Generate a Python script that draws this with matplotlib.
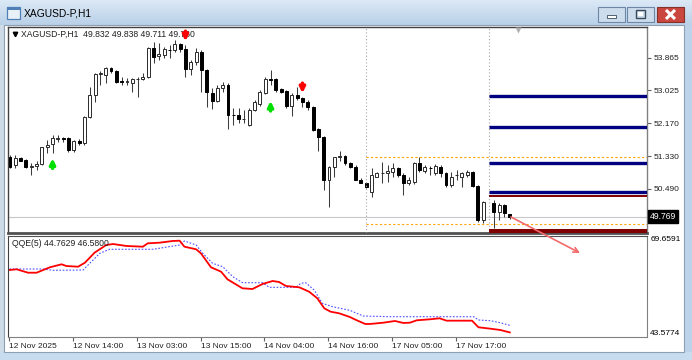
#!/usr/bin/env python3
"""
XAGUSD-P H1 chart with QQE(5) sub-window, redrawn in matplotlib
"""
import numpy as np
import matplotlib
matplotlib.use('Agg')
import matplotlib.pyplot as plt
from matplotlib.patches import Rectangle
from matplotlib.colors import LinearSegmentedColormap
import matplotlib.transforms as mtransforms

plt.rcParams['font.family'] = ['Liberation Sans', 'DejaVu Sans']

# ---- data ----
symbol = 'XAGUSD-P,H1'
header_ohlc = '49.832 49.838 49.711 49.760'
bid_price = 49.769

opens = [51.31, 51.10, 51.27, 51.23, 51.06, 51.07, 51.12, 51.55, 51.64, 51.78,
         51.79, 51.79, 51.49, 51.72, 51.66, 52.33, 52.90, 53.44, 53.42, 53.59,
         53.51, 53.25, 53.24, 53.20, 53.31, 53.31, 53.36, 54.11, 53.91, 53.93,
         54.07, 54.06, 54.22, 54.08, 53.57, 53.75, 54.02, 53.55, 52.96, 52.75,
         53.08, 53.16, 52.39, 52.39, 52.28, 52.13, 52.52, 52.67, 52.96, 53.31,
         53.31, 53.05, 53.01, 52.62, 52.90, 52.82, 52.73, 52.59, 52.02, 51.81,
         50.70, 51.06, 51.31, 51.33, 51.14, 51.06, 50.71, 50.64, 50.41, 50.80,
         50.88, 50.88, 50.93, 51.01, 50.84, 50.63, 50.67, 51.16, 50.95, 51.02,
         50.88, 51.06, 50.88, 50.58, 50.84, 50.80, 50.84, 50.93, 50.56, 49.68,
         np.nan, 50.11, 49.90, 50.07, 49.832]
highs = [51.36, 51.36, 51.31, 51.25, 51.14, 51.19, 51.57, 51.74, 51.87, 51.87,
         51.83, 51.81, 51.74, 51.78, 52.36, 53.10, 53.48, 53.51, 53.63, 53.63,
         53.55, 53.38, 53.33, 53.33, 53.38, 53.46, 54.15, 54.28, 54.24, 54.15,
         54.19, 54.32, 54.24, 54.19, 53.81, 54.11, 54.06, 53.57, 53.08, 53.16,
         53.25, 53.22, 52.56, 52.56, 52.52, 52.56, 52.78, 53.03, 53.38, 53.55,
         53.33, 53.08, 53.03, 52.95, 53.12, 52.86, 52.78, 52.62, 52.04, 51.85,
         51.07, 51.31, 51.47, 51.36, 51.18, 51.10, 50.76, 50.67, 51.01, 50.93,
         51.18, 51.10, 51.14, 51.06, 50.88, 50.80, 51.18, 51.31, 51.10, 51.07,
         51.12, 51.10, 50.93, 50.93, 50.97, 50.93, 50.97, 50.95, 50.58, 50.17,
         np.nan, 50.20, 50.11, 50.09, 49.838]
lows = [51.01, 51.01, 51.19, 51.01, 50.84, 50.97, 51.10, 51.40, 51.40, 51.70,
        51.70, 51.44, 51.44, 51.61, 51.61, 52.30, 52.73, 53.16, 53.20, 53.46,
        53.20, 53.16, 53.16, 52.99, 52.86, 53.29, 53.33, 53.72, 53.81, 53.85,
        53.85, 54.02, 54.02, 53.38, 53.42, 53.68, 52.99, 52.60, 52.53, 52.71,
        52.99, 52.02, 52.13, 52.19, 52.17, 52.11, 52.50, 52.62, 52.93, 53.16,
        52.99, 52.95, 52.56, 52.36, 52.78, 52.60, 52.52, 51.98, 51.47, 50.46,
        50.02, 50.80, 51.19, 51.10, 51.01, 50.70, 50.63, 50.50, 50.28, 50.78,
        50.64, 50.67, 50.80, 50.80, 50.33, 50.58, 50.61, 50.93, 50.88, 50.84,
        50.84, 50.80, 50.54, 50.54, 50.71, 50.54, 50.78, 50.54, 49.64, 49.60,
        np.nan, 49.47, 49.68, 49.77, 49.711]
closes = [51.06, 51.27, 51.21, 51.04, 51.08, 51.12, 51.55, 51.61, 51.79, 51.80,
          51.78, 51.49, 51.72, 51.66, 52.33, 52.90, 53.44, 53.46, 53.59, 53.51,
          53.25, 53.24, 53.25, 53.31, 53.32, 53.36, 54.11, 53.89, 53.96, 54.08,
          54.06, 54.22, 54.08, 53.57, 53.75, 54.00, 53.55, 52.99, 52.75, 53.08,
          53.16, 52.39, 52.38, 52.28, 52.29, 52.52, 52.71, 52.99, 53.31, 53.30,
          53.03, 52.99, 52.62, 52.90, 52.82, 52.71, 52.59, 52.00, 51.81, 50.70,
          51.06, 51.30, 51.32, 51.14, 51.06, 50.71, 50.64, 50.54, 50.84, 50.88,
          50.89, 50.95, 51.01, 50.84, 50.63, 50.71, 51.16, 50.97, 51.06, 51.01,
          51.07, 50.88, 50.58, 50.80, 50.84, 50.88, 50.93, 50.56, 49.68, 50.15,
          np.nan, 49.90, 50.07, 49.85, 49.760]

# signal arrows (bar, price, direction)
signal_bars = [8, 33, 49, 55]
signal_prices = [51.14, 54.42, 52.62, 53.08]
signal_up = [True, False, True, False]

# objects on the chart
vline_bars = [67, 90]
orange_levels = [51.313, 49.578]
blue_levels = [52.878, 52.086, 51.158, 50.395]
red_levels = [50.30, 49.39]
red_widths = [1.4, 2.9]
arrow_from = (94.2, 49.76)
arrow_to = (107.2, 48.83)

price_ticks = [53.865, 53.025, 52.170, 51.330, 50.490, 49.655]

# QQE(5) lines (bar position, value)
qqe_rsi_x = [-0.1, 1.25, 3.4, 5.0, 7.5, 9.7, 10.6, 12.8, 14.1, 15.9, 18.1, 19.4,
             21.9, 25.0, 25.9, 28.1, 30.6, 31.9, 32.8, 35.0, 35.9, 37.8, 39.7,
             40.9, 43.7, 45.6, 47.5, 49.4, 50.6, 51.9, 54.4, 56.25, 57.8, 59.1,
             60.3, 61.9, 63.9, 65.1, 66.8, 67.7, 70.2, 72.4, 74.0, 75.2, 76.5,
             79.0, 80.8, 82.1, 86.9, 88.1, 90.3, 92.2, 94.0]
qqe_rsi = [60.88, 61.06, 60.18, 60.18, 61.58, 62.35, 61.91, 61.73, 62.77, 65.35,
           67.34, 67.59, 67.08, 66.90, 67.77, 67.93, 68.37, 68.45, 66.90, 66.23,
           65.19, 61.58, 60.44, 58.48, 56.16, 55.97, 57.27, 58.04, 57.78, 56.75,
           56.41, 55.28, 53.57, 50.99, 50.11, 49.70, 48.75, 47.97, 46.94, 46.94,
           47.27, 47.71, 47.20, 47.27, 47.89, 48.15, 48.41, 47.79, 47.79, 46.09,
           45.73, 45.39, 44.76]
qqe_trail_x = [-0.1, 6.25, 8.1, 13.75, 15.0, 16.9, 18.75, 26.9, 31.9, 32.8, 35.0,
               36.25, 38.1, 40.0, 41.9, 43.75, 47.5, 48.75, 53.75, 54.7, 55.6,
               57.2, 58.75, 60.6, 63.9, 66.4, 71.4, 87.2, 88.1, 90.3, 92.2, 94.0]
qqe_trail = [61.14, 61.14, 60.80, 60.88, 62.61, 65.19, 66.23, 66.23, 67.34, 68.37,
             67.34, 65.19, 62.61, 61.73, 59.15, 57.60, 57.60, 56.41, 56.41, 57.45,
             57.60, 55.72, 52.28, 51.41, 50.47, 49.00, 48.82, 48.82, 47.97, 47.79,
             47.27, 46.58]
qqe_label = 'QQE(5) 44.7629 46.5800'
qqe_max, qqe_min = 69.6591, 43.5774

time_bars = [0, 12, 24, 36, 48, 60, 72, 84]
time_labels = ['12 Nov 2025', '12 Nov 14:00', '13 Nov 03:00', '13 Nov 15:00',
               '14 Nov 04:00', '14 Nov 16:00', '17 Nov 05:00', '17 Nov 17:00']

# ---- figure / window layout (pixels) ----
W, H = 692, 360
fig = plt.figure(figsize=(W / 100, H / 100), dpi=100)
fig.patch.set_facecolor('#c4d8ec')

# window chrome
bg = fig.add_axes([0, 0, 1, 1], zorder=0)
bg.set_xlim(0, W)
bg.set_ylim(H, 0)
bg.axis('off')
title_cmap = LinearSegmentedColormap.from_list('tb', ['#dce9f6', '#b9d0e8'])
bg.imshow(np.linspace(0, 1, 50)[:, None], cmap=title_cmap, aspect='auto',
          extent=(0, W, 25, 0), zorder=0)
bg.add_patch(Rectangle((0, 25), 4, H - 25, fc='#cfdbe7', ec='none'))
bg.add_patch(Rectangle((684, 25), 8, H - 25, fc='#bcd3ea', ec='none'))
bg.add_patch(Rectangle((0, 352), W, 8, fc='#c8dcf0', ec='none'))
bg.add_patch(Rectangle((4, 25), 680, 327, fc='white', ec='#8e9fb2', lw=0.8))
# title icon + text
bg.add_patch(Rectangle((7, 7), 13, 12, fc='#e8f0f8', ec='#4f7fb5', lw=0.9))
bg.add_patch(Rectangle((7, 7), 13, 3, fc='#4f7fb5', ec='none'))
bg.text(24, 14, symbol, fontsize=7.4, va='center', ha='left', color='black')
# caption buttons
for x0, fc, ec in [(598, '#cddcec', '#6d87a6'), (627, '#cddcec', '#6d87a6'),
                   (657, '#c9473e', '#86302a')]:
    bg.add_patch(Rectangle((x0, 7), 27, 15, fc=fc, ec=ec, lw=0.8))
bg.add_patch(Rectangle((607, 15), 9, 2.5, fc='white', ec='#3a4a5c', lw=0.6))
bg.add_patch(Rectangle((636, 10), 9, 8, fc='none', ec='#3a4a5c', lw=1.0))
bg.add_patch(Rectangle((638, 12), 5, 4, fc='white', ec='none'))
bg.plot([666, 675], [10, 19], color='white', lw=2.2, solid_capstyle='butt')
bg.plot([666, 675], [19, 10], color='white', lw=2.2, solid_capstyle='butt')

# ---- main price window ----
ax = fig.add_axes([7.5 / W, 1 - 233 / H, (647 - 7.5) / W, (233 - 27) / H], zorder=3)
ind = fig.add_axes([7.5 / W, 1 - 337 / H, (647 - 7.5) / W, (337 - 236) / H], zorder=2)

bars = np.arange(len(opens))
o = np.array(opens)
h = np.array(highs)
l = np.array(lows)
c = np.array(closes)
up = c >= o

ax.vlines(bars, l, h, color='#3c3c3c', lw=0.75, zorder=2)
body_h = np.where(np.abs(c - o) < 0.012, 0.012, np.abs(c - o))
body_b = np.minimum(o, c)
ax.bar(bars[up], body_h[up], bottom=body_b[up], width=0.55,
       color='white', edgecolor='#2a2a2a', linewidth=0.7, zorder=3)
ax.bar(bars[~up], body_h[~up], bottom=body_b[~up], width=0.55,
       color='black', edgecolor='black', linewidth=0.7, zorder=3)

xmax = 119.8
ax.set_xlim(-0.47, xmax)
ax.set_ylim(49.346, 54.656)

# bid line
ax.axhline(bid_price, color='#c8c8c8', lw=0.8, zorder=1)

# objects
for vb in vline_bars:
    ax.axvline(vb, color='#a8a8a8', lw=0.8, ls=(0, (1, 2)), zorder=4)
for lv in orange_levels:
    ax.hlines(lv, vline_bars[0], xmax, color='#ffa500', lw=0.8, ls=(0, (2, 2)), zorder=4)
for lv in blue_levels:
    ax.hlines(lv, vline_bars[1], xmax, color='#000080', lw=2.4, zorder=5)
for lv, lw in zip(red_levels, red_widths):
    ax.hlines(lv, vline_bars[1], xmax, color='#800000', lw=lw, zorder=5)

# buy / sell arrows
for b, p, is_up in zip(signal_bars, signal_prices, signal_up):
    d = 0.13 if is_up else -0.13
    ax.annotate('', xy=(b, p + d), xytext=(b, p - d),
                arrowprops=dict(arrowstyle='-|>', color='#00e000' if is_up else '#ff0000',
                                lw=2.4, mutation_scale=8, shrinkA=0, shrinkB=0),
                zorder=6)

# trend arrow drawn from the last bar
ax.annotate('', xy=arrow_to, xytext=arrow_from, annotation_clip=False,
            arrowprops=dict(arrowstyle='->', color='#f26a6a', lw=1.2,
                            mutation_scale=9, shrinkA=0, shrinkB=0, clip_on=False),
            zorder=7)

# chart shift marker
ax.plot(95.5, 0.985, marker='v', ms=5, color='#b0b0b0', mec='none',
        transform=mtransforms.blended_transform_factory(ax.transData, ax.transAxes),
        clip_on=False, zorder=6)

# header
ax.plot(0.012, 0.965, marker='v', ms=3.2, color='black', transform=ax.transAxes)
ax.text(0.021, 0.965, symbol + '  ' + header_ohlc, transform=ax.transAxes,
        fontsize=6.2, va='center', ha='left', color='#202020')

# price axis
ax.yaxis.tick_right()
ax.set_yticks(price_ticks)
ax.set_yticklabels([f'{p:.3f}' for p in price_ticks])
ax.tick_params(axis='y', direction='out', length=3, pad=1.5, labelsize=6,
               color='#606060', labelcolor='#202020')
ax.set_xticks([])
for side, col, lw in [('left', '#404040', 1.0), ('top', '#404040', 1.0),
                      ('right', '#808080', 1.0), ('bottom', '#505050', 2.0)]:
    ax.spines[side].set_color(col)
    ax.spines[side].set_linewidth(lw)

ax.text(1.004, bid_price, f'{bid_price:.3f}',
        transform=mtransforms.blended_transform_factory(ax.transAxes, ax.transData),
        fontsize=6.2, color='white', va='center', ha='left', clip_on=False, zorder=10,
        bbox=dict(boxstyle='square,pad=0.2', fc='black', ec='black'))

# ---- QQE window ----
ind.plot(qqe_trail_x, qqe_trail, color='#5050ff', lw=0.8, ls=(0, (1.5, 1.5)))
ind.plot(qqe_rsi_x, qqe_rsi, color='#ff0000', lw=1.3)
ind.set_xlim(-0.47, xmax)
ind.set_ylim(qqe_min, qqe_max)
ind.set_yticks([])
ind.text(0.007, 0.93, qqe_label, transform=ind.transAxes, fontsize=6.2,
         va='center', ha='left', color='#202020')
ind.text(1.005, qqe_max, f'{qqe_max:.4f}', fontsize=6, va='top', ha='left',
         transform=mtransforms.blended_transform_factory(ind.transAxes, ind.transData),
         clip_on=False)
ind.text(1.005, qqe_min, f'{qqe_min:.4f}', fontsize=6, va='bottom', ha='left',
         transform=mtransforms.blended_transform_factory(ind.transAxes, ind.transData),
         clip_on=False)
ind.set_xticks([tb - 0.15 for tb in time_bars])
ind.set_xticklabels(time_labels, ha='left')
ind.tick_params(axis='x', direction='out', length=3, pad=1.5, labelsize=6,
                color='#606060', labelcolor='#202020')
for side, col in [('left', '#404040'), ('top', '#505050'),
                  ('right', '#808080'), ('bottom', '#808080')]:
    ind.spines[side].set_color(col)

plt.savefig('out.png', dpi=100, facecolor=fig.get_facecolor())
print('saved out.png')
